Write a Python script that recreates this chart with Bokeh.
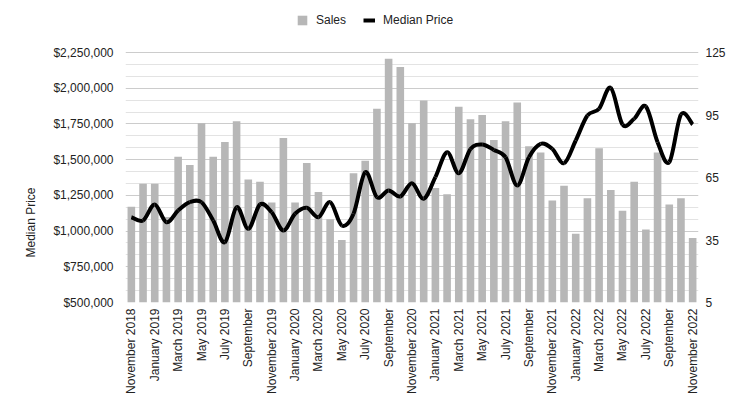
import numpy as np
from bokeh.plotting import figure
from bokeh.models import (Range1d, LinearAxis, FixedTicker, NumeralTickFormatter,
                          ColumnDataSource, Legend, LegendItem, Title)
from bokeh.embed import file_html
from bokeh.resources import INLINE

months = ["November 2018", "December 2018", "January 2019", "February 2019", "March 2019",
          "April 2019", "May 2019", "June 2019", "July 2019", "August 2019", "September 2019",
          "October 2019", "November 2019", "December 2019", "January 2020", "February 2020",
          "March 2020", "April 2020", "May 2020", "June 2020", "July 2020", "August 2020",
          "September 2020", "October 2020", "November 2020", "December 2020", "January 2021",
          "February 2021", "March 2021", "April 2021", "May 2021", "June 2021", "July 2021",
          "August 2021", "September 2021", "October 2021", "November 2021", "December 2021",
          "January 2022", "February 2022", "March 2022", "April 2022", "May 2022", "June 2022",
          "July 2022", "August 2022", "September 2022", "October 2022", "November 2022"]

sales = [51, 62, 62, 46, 75, 71, 91, 75, 82, 92, 64, 63, 53, 84, 53, 72, 58, 45, 35, 67,
         73, 98, 122, 118, 91, 102, 60, 57, 99, 93, 95, 83, 92, 101, 80, 77, 54, 61, 38,
         55, 79, 59, 49, 63, 40, 77, 52, 55, 36]

median_price = [1097000, 1074000, 1186000, 1062000, 1144000, 1202000, 1202000, 1074000,
                922000, 1167000, 1016000, 1186000, 1132000, 1004000, 1121000, 1163000,
                1097000, 1202000, 1039000, 1121000, 1412000, 1237000, 1284000, 1242000,
                1335000, 1226000, 1377000, 1552000, 1405000, 1575000, 1606000, 1568000,
                1517000, 1319000, 1517000, 1611000, 1575000, 1475000, 1634000, 1809000,
                1856000, 2003000, 1746000, 1786000, 1872000, 1622000, 1482000, 1816000,
                1746000]

tick_labels = ["November 2018", "January 2019", "March 2019", "May 2019", "July 2019",
               "September", "November 2019", "January 2020", "March 2020", "May 2020",
               "July 2020", "September", "November 2020", "January 2021", "March 2021",
               "May 2021", "July 2021", "September", "November 2021", "January 2022",
               "March 2022", "May 2022", "July 2022", "September", "November 2022"]

price_ticks = [500000, 750000, 1000000, 1250000, 1500000, 1750000, 2000000, 2250000]
sales_ticks = [5, 35, 65, 95, 125]

FONT = "Liberation Sans"
TXT = "#222222"

W, H = 741, 410
LEFT, RIGHT, BOTTOM = 125, 43, 108
FRAME_TOP = 8          # frame extends up to hold the legend
GRID_TOP = 52          # where the top gridline sits
grid_px = (H - BOTTOM) - GRID_TOP
frame_px = (H - BOTTOM) - FRAME_TOP
stretch = frame_px / grid_px

n = len(months)
idx = np.arange(n, dtype=float)

y_end = price_ticks[0] + (price_ticks[-1] - price_ticks[0]) * stretch
s_end = sales_ticks[0] + (sales_ticks[-1] - sales_ticks[0]) * stretch

p = figure(width=W, height=H, output_backend="svg", toolbar_location=None,
           x_range=Range1d(-0.5, n - 0.5), y_range=Range1d(price_ticks[0], y_end))
p.min_border_left = LEFT
p.min_border_right = RIGHT
p.min_border_top = FRAME_TOP
p.min_border_bottom = BOTTOM
p.outline_line_color = None
p.background_fill_color = "white"

p.extra_y_ranges = {"sales": Range1d(sales_ticks[0], s_end)}

# bars
src = ColumnDataSource(dict(x=idx, sales=sales))
bars = p.vbar(x="x", top="sales", bottom=sales_ticks[0], width=0.65, source=src,
              y_range_name="sales", fill_color="#b7b7b7", line_color=None)

# smoothed line (Catmull-Rom through the data points)
P = np.array(median_price, dtype=float)
Pm = np.concatenate([[P[0]], P[:-1]])
Pp = np.concatenate([P[1:], [P[-1]]])
Xm = np.concatenate([[idx[0]], idx[:-1]])
Xp = np.concatenate([idx[1:], [idx[-1]]])
x0, y0 = idx[:-1], P[:-1]
x1, y1 = idx[1:], P[1:]
cx0 = x0 + (x1 - Xm[:-1]) / 6.0
cy0 = y0 + (y1 - Pm[:-1]) / 6.0
cx1 = x1 - (Xp[1:] - x0) / 6.0
cy1 = y1 - (Pp[1:] - y0) / 6.0
bsrc = ColumnDataSource(dict(x0=x0, y0=y0, x1=x1, y1=y1, cx0=cx0, cy0=cy0, cx1=cx1, cy1=cy1))
curve = p.bezier(x0="x0", y0="y0", x1="x1", y1="y1", cx0="cx0", cy0="cy0", cx1="cx1", cy1="cy1",
                 source=bsrc, line_color="black", line_width=4)

# axes
p.xaxis.ticker = FixedTicker(ticks=list(range(0, n, 2)))
p.xaxis.major_label_overrides = {i * 2: lab for i, lab in enumerate(tick_labels)}
p.xaxis.major_label_orientation = np.pi / 2
p.xaxis.axis_line_color = None
p.xaxis.major_tick_line_color = None
p.xaxis.minor_tick_line_color = None
p.xaxis.major_tick_out = 0
p.xaxis.major_label_standoff = 6
p.xaxis.major_label_text_font = FONT
p.xaxis.major_label_text_font_size = "12px"
p.xaxis.major_label_text_color = TXT

minor = []
for a, b in zip(price_ticks[:-1], price_ticks[1:]):
    minor += [a + (b - a) / 3.0, a + 2 * (b - a) / 3.0]
p.yaxis.ticker = FixedTicker(ticks=price_ticks, minor_ticks=minor)
p.yaxis.formatter = NumeralTickFormatter(format="$0,0")
p.yaxis.axis_line_color = None
p.yaxis.major_tick_line_color = None
p.yaxis.minor_tick_line_color = None
p.yaxis.major_tick_out = 0
p.yaxis.major_label_standoff = 8
p.yaxis.major_label_text_font = FONT
p.yaxis.major_label_text_font_size = "12px"
p.yaxis.major_label_text_color = TXT

# axis title as a side title so it can be shifted to where the reference has it
ytitle = Title(text="Median Price", align="left", offset=45, standoff=26,
               text_font=FONT, text_font_size="12px", text_font_style="normal",
               text_color=TXT)
p.add_layout(ytitle, "left")

ax_r = LinearAxis(y_range_name="sales", ticker=FixedTicker(ticks=sales_ticks))
ax_r.axis_line_color = None
ax_r.major_tick_line_color = None
ax_r.minor_tick_line_color = None
ax_r.major_tick_out = 0
ax_r.major_label_standoff = 7
ax_r.major_label_text_font = FONT
ax_r.major_label_text_font_size = "12px"
ax_r.major_label_text_color = TXT
p.add_layout(ax_r, "right")

p.xgrid.grid_line_color = None
p.ygrid.grid_line_color = "#cccccc"
p.ygrid.minor_grid_line_color = "#e3e3e3"

legend = Legend(items=[LegendItem(label="Sales", renderers=[bars]),
                       LegendItem(label="Median Price", renderers=[curve])],
                orientation="horizontal", location=(171, (H - BOTTOM) - 27),
                border_line_color=None, background_fill_alpha=0,
                padding=0, margin=0, spacing=17, glyph_width=12, glyph_height=12,
                label_height=12, label_standoff=8,
                label_text_font=FONT, label_text_font_size="12px", label_text_color=TXT)
p.add_layout(legend, "center")

open("out.html", "w").write(file_html(p, INLINE))
